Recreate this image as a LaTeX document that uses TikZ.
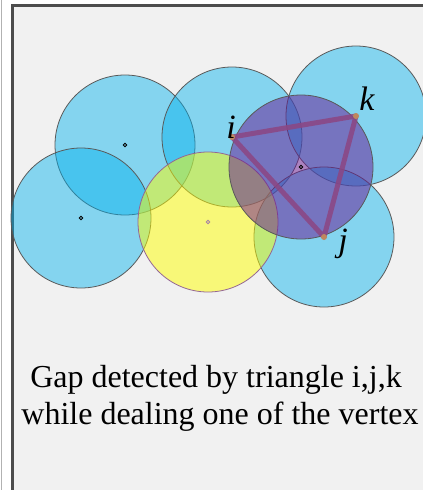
\documentclass[tikz,border=0pt]{standalone}
\usepackage{fontspec}
\setmainfont{Liberation Serif}
\usepackage{xcolor}
\usetikzlibrary{math}
\definecolor{mycyan}{RGB}{0, 178, 238}
\definecolor{myyellow}{RGB}{255, 255, 0}
\definecolor{myviolet}{RGB}{105, 22, 145}
\definecolor{myedge}{RGB}{140, 70, 130}
\definecolor{mydot}{RGB}{190, 135, 95}
\definecolor{mybg}{RGB}{241, 241, 241}

\begin{document}
\begin{tikzpicture}[x=1pt,y=-1pt]
\tikzmath{
\R=70;
}
\useasboundingbox (0,0) rectangle (423,490);
%frame
\fill[white] (0,0) rectangle (423,490);
\draw[line width=1.2pt, color=black!30] (1.5,0) -- (1.5,490);
\fill[mybg] (12,5) rectangle (430,500);
\draw[line width=3pt, color=black!70] (12,500) -- (12,5) -- (430,5);

\coordinate (C1) at (125,145);
\coordinate (C2) at (81,218);
\coordinate (Y) at (208,222);
\coordinate (G) at (301,167);
\coordinate (I) at (232,137);
\coordinate (J) at (324,237);
\coordinate (K) at (356,116);

%sensors
\filldraw[fill=mycyan, fill opacity=0.45, draw=black!65, line width=0.8pt] (C1) circle(\R pt);
\filldraw[fill=mycyan, fill opacity=0.45, draw=black!65, line width=0.8pt] (C2) circle(\R pt);
\filldraw[fill=mycyan, fill opacity=0.45, draw=black!65, line width=0.8pt] (I) circle(\R pt);
\filldraw[fill=mycyan, fill opacity=0.45, draw=black!65, line width=0.8pt] (K) circle(\R pt);
\filldraw[fill=mycyan, fill opacity=0.45, draw=black!65, line width=0.8pt] (J) circle(\R pt);
\filldraw[fill=myyellow, fill opacity=0.5, draw=black!40!violet!60, line width=0.8pt] (Y) circle(\R pt);
\filldraw[fill=myviolet, fill opacity=0.5, draw=black!65, line width=0.8pt] (G) circle(72pt);

\draw[line width=0.8pt] (C1) circle(1.8pt);
\draw[line width=0.8pt] (C2) circle(1.8pt);
\draw[line width=0.8pt] (G) circle(1.8pt);
\draw[line width=0.8pt, color=black!40!violet!50] (Y) circle(1.8pt);

%triangle
\draw[line width=5pt, color=myedge, opacity=0.85, line join=round] (I) -- (K) -- (J) -- cycle;
\fill[mydot] (I) circle(3pt);
\fill[mydot] (J) circle(3pt);
\fill[mydot] (K) circle(3pt);
\node[font=\fontsize{34}{34}\selectfont\itshape, anchor=base] (li) at (231,138) {i};
\node[font=\fontsize{34}{34}\selectfont\itshape, anchor=base] (lk) at (367,110) {k};
\node[font=\fontsize{34}{34}\selectfont\itshape, anchor=base] (lj) at (343,251) {j};

\node[font=\fontsize{32}{32}\selectfont, anchor=base] (cap1) at (216,387) {Gap detected by triangle i,j,k};
\node[font=\fontsize{32}{32}\selectfont, anchor=base] (cap2) at (220,424) {while dealing one of the vertex};
\end{tikzpicture}
\end{document}
